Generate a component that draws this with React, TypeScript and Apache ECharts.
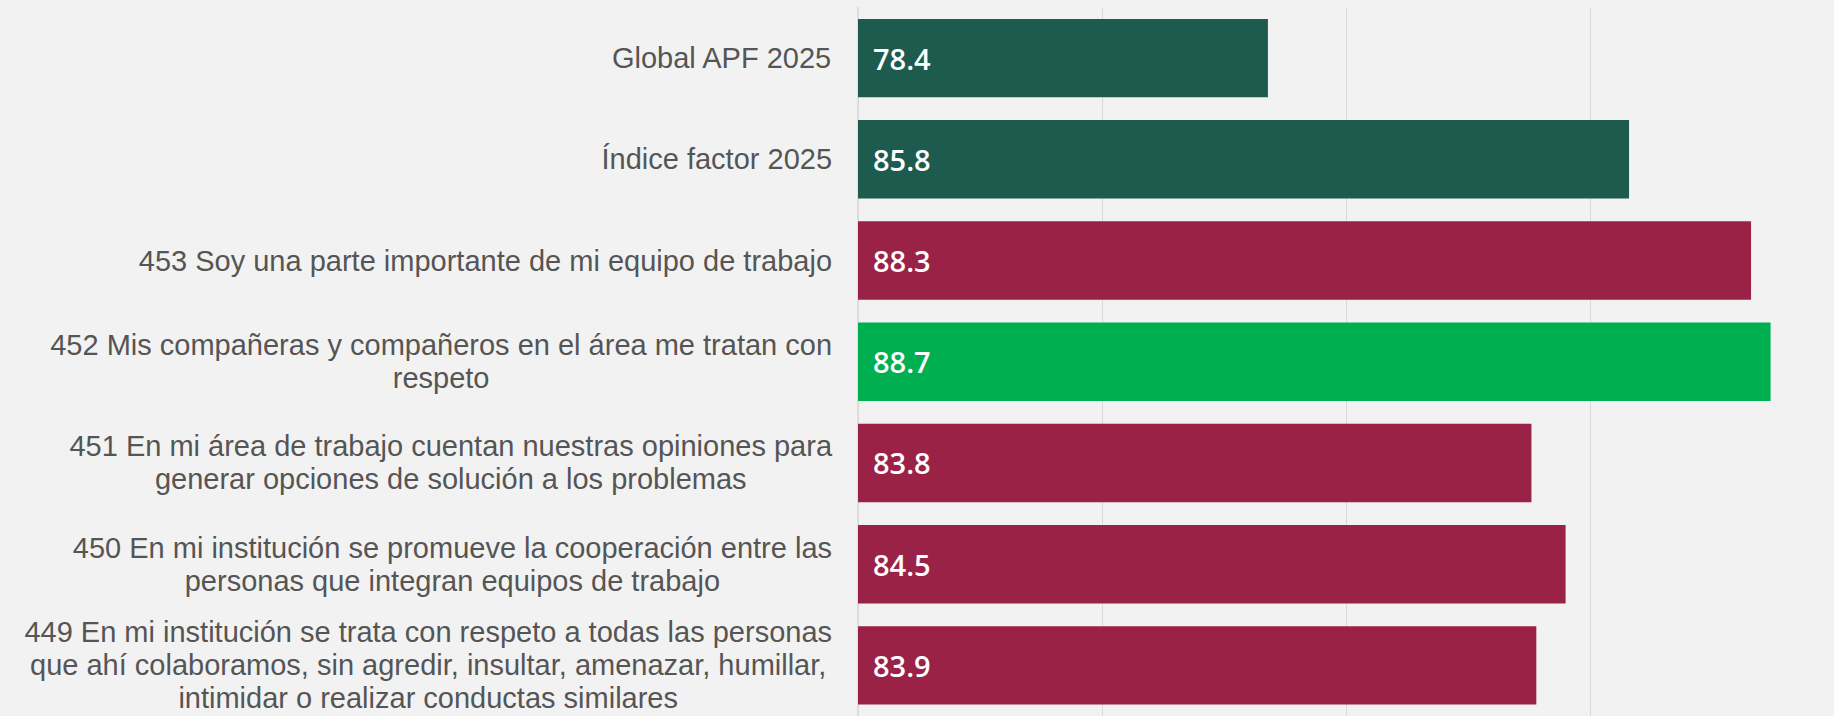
import React, { useEffect, useRef } from "react";
import * as echarts from "echarts";

const categories: string[] = [
  "Global APF 2025",
  "Índice factor 2025",
  "453 Soy una parte importante de mi equipo de trabajo",
  "452 Mis compañeras y compañeros en el área me tratan con\nrespeto",
  "451 En mi área de trabajo cuentan nuestras opiniones para\ngenerar opciones de solución a los problemas",
  "450 En mi institución se promueve la cooperación entre las\npersonas que integran equipos de trabajo",
  "449 En mi institución se trata con respeto a todas las personas\nque ahí colaboramos, sin agredir, insultar, amenazar, humillar,\nintimidar o realizar conductas similares",
];

const values: number[] = [78.4, 85.8, 88.3, 88.7, 83.8, 84.5, 83.9];

const barColors: string[] = [
  "#1E5B4F",
  "#1E5B4F",
  "#9B2247",
  "#00B050",
  "#9B2247",
  "#9B2247",
  "#9B2247",
];

export default function App() {
  const ref = useRef<HTMLDivElement>(null);

  useEffect(() => {
    if (!ref.current) return;
    const chart = echarts.init(ref.current, undefined, { renderer: "svg" });
    chart.setOption({
      animation: false,
      backgroundColor: "#F2F2F2",
      grid: { left: 858, width: 977, top: 7.5, height: 711.7, containLabel: false },
      xAxis: {
        type: "value",
        min: 70,
        max: 90,
        interval: 5,
        axisLabel: { show: false },
        axisLine: { show: false },
        axisTick: { show: false },
        splitLine: { show: true, lineStyle: { color: "#D9D9D9", width: 1 } },
      },
      yAxis: {
        type: "category",
        inverse: true,
        data: categories,
        axisLine: { show: true, lineStyle: { color: "#D9D9D9", width: 1.5 } },
        axisTick: { show: false },
        axisLabel: {
          margin: 26,
          align: "right",
          formatter: (v: string) =>
            v
              .split("\n")
              .map((line) => `{c|${line}}`)
              .join("\n"),
          rich: {
            c: {
              align: "center",
              fontFamily: "Liberation Sans",
              fontSize: 29,
              lineHeight: 33,
              color: "#555555",
            },
          },
        },
      },
      series: [
        {
          type: "bar",
          barCategoryGap: "22.5%",
          data: values.map((v, i) => ({ value: v, itemStyle: { color: barColors[i] } })),
          label: {
            show: true,
            position: "insideLeft",
            distance: 15,
            color: "#FFFFFF",
            fontFamily: "Open Sans",
            fontWeight: 600,
            fontSize: 29,
            formatter: (p: any) => Number(p.value).toFixed(1),
          },
        },
      ],
    });
    return () => chart.dispose();
  }, []);

  return (
    <div
      ref={ref}
      style={{ position: "absolute", left: 0, top: 0, width: 1834, height: 716 }}
    />
  );
}
